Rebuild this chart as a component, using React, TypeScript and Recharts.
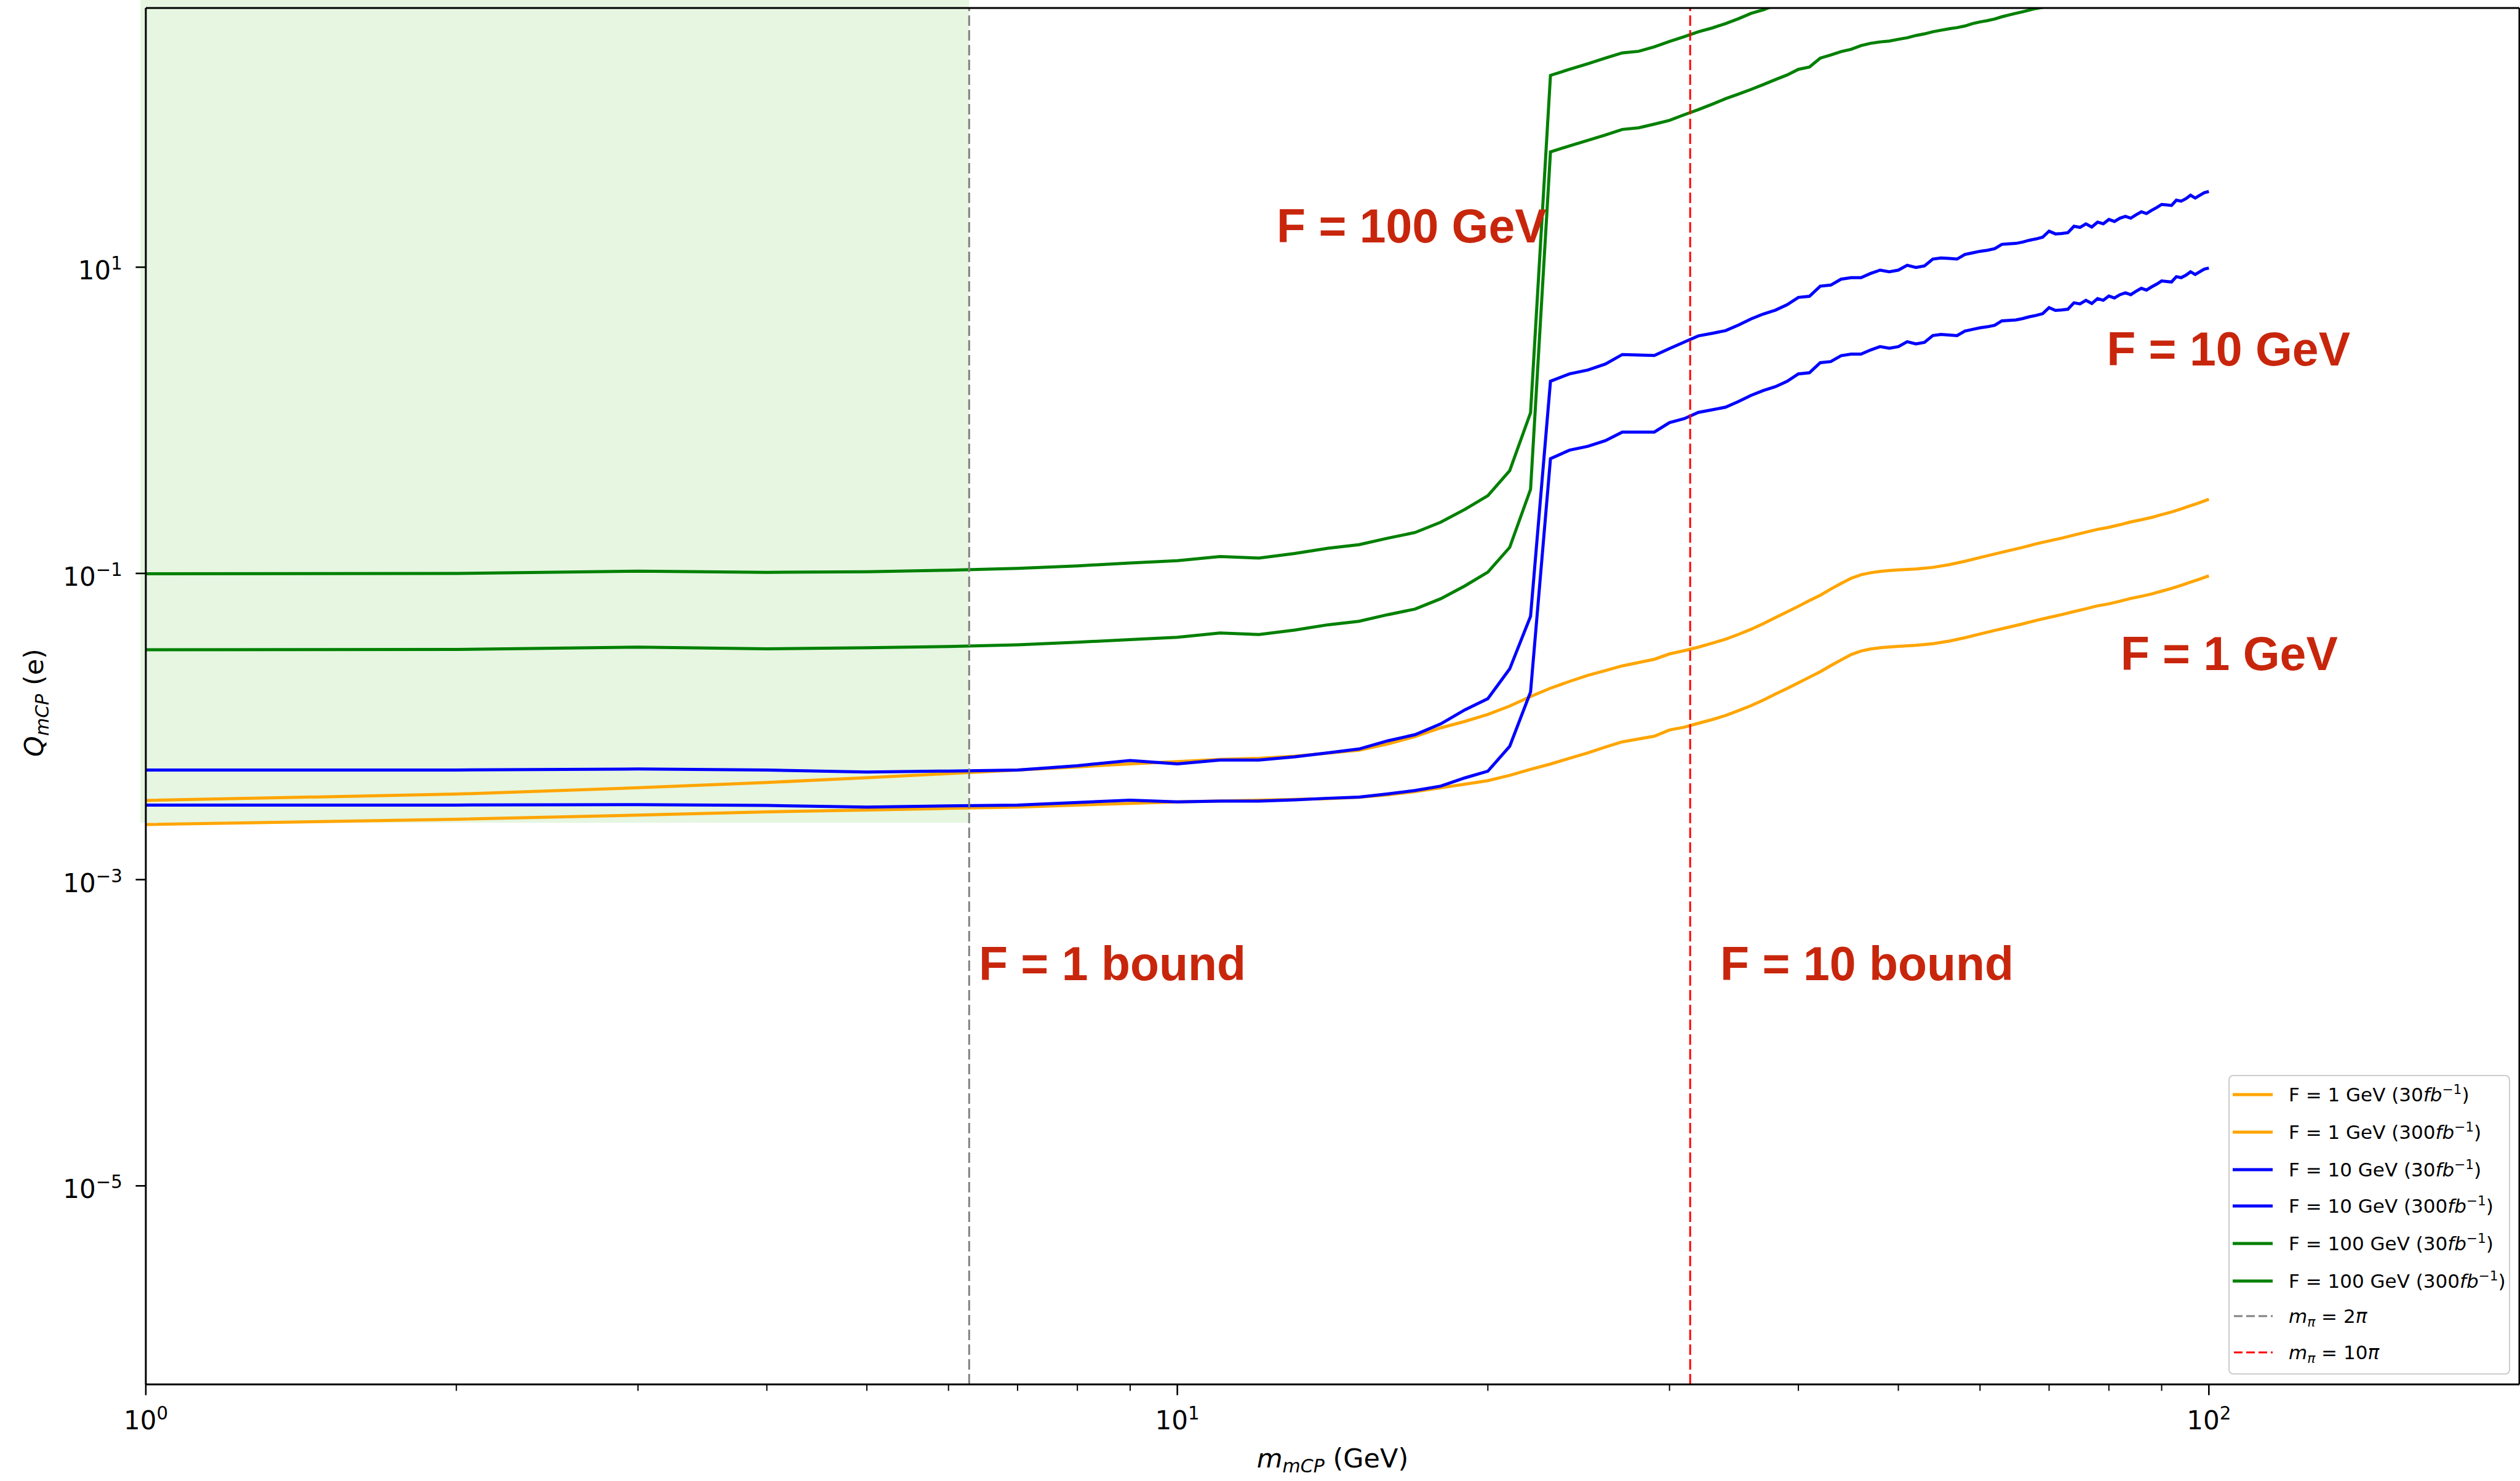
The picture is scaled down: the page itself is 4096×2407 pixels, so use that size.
import React from 'react';
import {
  ComposedChart,
  Line,
  XAxis,
  YAxis,
  ReferenceLine,
  ReferenceArea,
  Scatter,
  Legend,
  Customized,
} from 'recharts';

// ---------------- data ----------------
const X_MIN = 1;
const X_MAX = 200;
const Y_MIN = 5.05e-7;
const Y_MAX = 493;

const xMajorTicks = [1, 10, 100];
const xMinorTicks = [2, 3, 4, 5, 6, 7, 8, 9, 20, 30, 40, 50, 60, 70, 80, 90];
const xTickLabels: Record<number, [string, string]> = { 1: ['10', '0'], 10: ['10', '1'], 100: ['10', '2'] };
const yTicks = [1e1, 1e-1, 1e-3, 1e-5];
const yTickLabels: Record<string, [string, string]> = {
  '10': ['10', '1'],
  '0.1': ['10', '\u22121'],
  '0.001': ['10', '\u22123'],
  '0.00001': ['10', '\u22125'],
};

// F = 1 GeV, 30 fb^-1
const orange30: [number, number][] = [
  [1, 0.00329], [2, 0.00362], [3, 0.00398], [4, 0.00431], [5, 0.00463], [6, 0.00493], [7, 0.0052],
  [8, 0.00545], [9, 0.0057], [10, 0.0059], [11, 0.0061], [12, 0.0062], [13, 0.0064], [14, 0.0067],
  [15, 0.007], [16, 0.0077], [17, 0.0086], [18, 0.0098], [19, 0.0108], [20, 0.012], [21, 0.0136],
  [22, 0.0157], [23, 0.0178], [24, 0.0197], [25, 0.0216], [26, 0.0232], [27, 0.0249], [28, 0.0262],
  [29, 0.0275], [30, 0.0298], [31, 0.0313], [32, 0.033], [33, 0.035], [34, 0.0372], [35, 0.04],
  [36, 0.0432], [37, 0.047], [38, 0.0515], [39, 0.056], [40, 0.061], [41, 0.0665], [42, 0.072],
  [43, 0.079], [44, 0.086], [45, 0.093], [46, 0.098], [47, 0.101], [48, 0.103], [49, 0.1045],
  [50, 0.1055], [52, 0.107], [54, 0.1095], [56, 0.114], [58, 0.12], [60, 0.127], [62, 0.134],
  [64, 0.141], [66, 0.148], [68, 0.156], [70, 0.163], [72, 0.17], [74, 0.178], [76, 0.186],
  [78, 0.194], [80, 0.2], [82, 0.208], [84, 0.217], [86, 0.224], [88, 0.232], [90, 0.242],
  [92, 0.252], [94, 0.264], [96, 0.277], [98, 0.29], [100, 0.305],
];

// F = 1 GeV, 300 fb^-1
const orange300: [number, number][] = [
  [1, 0.00229], [2, 0.00248], [3, 0.00264], [4, 0.00277], [5, 0.00285], [6, 0.00292], [7, 0.00298],
  [8, 0.00307], [9, 0.00315], [10, 0.00322], [12, 0.0033], [14, 0.00338], [15, 0.00345], [16, 0.00358],
  [17, 0.00376], [18, 0.00398], [19, 0.0042], [20, 0.00443], [21, 0.0048], [22, 0.00525], [23, 0.00569],
  [24, 0.0062], [25, 0.00673], [26, 0.00735], [27, 0.00794], [28, 0.0083], [29, 0.00864], [30, 0.0095],
  [31, 0.0099], [32, 0.0105], [33, 0.0111], [34, 0.0118], [35, 0.0127], [36, 0.0137], [37, 0.0149],
  [38, 0.0163], [39, 0.0177], [40, 0.0193], [41, 0.021], [42, 0.0228], [43, 0.025], [44, 0.0272],
  [45, 0.0295], [46, 0.0311], [47, 0.0321], [48, 0.0327], [49, 0.0331], [50, 0.0334], [52, 0.0339],
  [54, 0.0347], [56, 0.0361], [58, 0.038], [60, 0.0402], [62, 0.0424], [64, 0.0446], [66, 0.0468],
  [68, 0.0493], [70, 0.0516], [72, 0.0538], [74, 0.0563], [76, 0.0588], [78, 0.0614], [80, 0.0633],
  [82, 0.0658], [84, 0.0686], [86, 0.0709], [88, 0.0734], [90, 0.0766], [92, 0.0797], [94, 0.0835],
  [96, 0.0877], [98, 0.0918], [100, 0.0965],
];

// F = 10 GeV, 30 fb^-1
const blue30: [number, number][] = [
  [1, 0.0052], [2, 0.0052], [3, 0.00528], [4, 0.0052], [5, 0.00504], [6, 0.00512], [7, 0.0052],
  [8, 0.00555], [9, 0.006], [10, 0.0057], [11, 0.00604], [12, 0.00604], [13, 0.00634], [14, 0.00673],
  [15, 0.00713], [16, 0.00807], [17, 0.00885], [18, 0.0104], [19, 0.01285], [20, 0.0152], [21, 0.0238],
  [22, 0.0525], [23, 1.8], [24, 2.01], [25, 2.13], [26, 2.33], [27, 2.69], [28, 2.67], [29, 2.65],
  [30, 2.94], [31, 3.24], [32, 3.56], [33, 3.7], [34, 3.85], [35, 4.19], [36, 4.6], [37, 4.95],
  [38, 5.24], [39, 5.68], [40, 6.35], [41, 6.46], [42, 7.52], [43, 7.64], [44, 8.35], [45, 8.55],
  [46, 8.55], [47, 9.1], [48, 9.57], [49, 9.34], [50, 9.57], [51, 10.3], [52, 9.96], [53, 10.2],
  [54, 11.3], [55, 11.5], [56, 11.4], [57, 11.3], [58, 12.1], [59, 12.4], [60, 12.7], [61, 12.9],
  [62, 13.2], [63, 14.1], [64, 14.2], [65, 14.3], [66, 14.6], [67, 15.0], [68, 15.3], [69, 15.7],
  [70, 17.2], [71, 16.5], [72, 16.6], [73, 16.8], [74, 18.5], [75, 18.2], [76, 19.2], [77, 18.3],
  [78, 19.7], [79, 19.2], [80, 20.5], [81, 19.9], [82, 20.9], [83, 21.5], [84, 20.9], [85, 22.0],
  [86, 23.0], [87, 22.4], [88, 23.5], [89, 24.5], [90, 25.7], [91, 25.5], [92, 25.3], [93, 27.4],
  [94, 27.0], [95, 28.0], [96, 29.5], [97, 28.3], [98, 29.5], [99, 30.7], [100, 31.2],
];

// F = 10 GeV, 300 fb^-1
const blue300: [number, number][] = [
  [1, 0.00307], [2, 0.00307], [3, 0.00309], [4, 0.00305], [5, 0.00298], [6, 0.00303], [7, 0.00307],
  [8, 0.00319], [9, 0.0033], [10, 0.00322], [11, 0.00326], [12, 0.00326], [13, 0.00332], [14, 0.0034],
  [15, 0.00346], [16, 0.00363], [17, 0.00382], [18, 0.00408], [19, 0.00462], [20, 0.00511], [21, 0.00743],
  [22, 0.0168], [23, 0.562], [24, 0.638], [25, 0.676], [26, 0.736], [27, 0.838], [28, 0.838], [29, 0.838],
  [30, 0.966], [31, 1.025], [32, 1.127], [33, 1.171], [34, 1.218], [35, 1.326], [36, 1.456], [37, 1.566],
  [38, 1.658], [39, 1.797], [40, 2.01], [41, 2.044], [42, 2.38], [43, 2.418], [44, 2.642], [45, 2.706],
  [46, 2.706], [47, 2.88], [48, 3.028], [49, 2.956], [50, 3.028], [51, 3.26], [52, 3.152], [53, 3.228],
  [54, 3.576], [55, 3.639], [56, 3.608], [57, 3.576], [58, 3.829], [59, 3.924], [60, 4.019], [61, 4.082],
  [62, 4.177], [63, 4.462], [64, 4.494], [65, 4.525], [66, 4.62], [67, 4.747], [68, 4.842], [69, 4.968],
  [70, 5.443], [71, 5.222], [72, 5.253], [73, 5.316], [74, 5.854], [75, 5.759], [76, 6.076], [77, 5.791],
  [78, 6.234], [79, 6.076], [80, 6.487], [81, 6.297], [82, 6.614], [83, 6.804], [84, 6.614], [85, 6.962],
  [86, 7.278], [87, 7.089], [88, 7.437], [89, 7.753], [90, 8.133], [91, 8.07], [92, 8.006], [93, 8.671],
  [94, 8.544], [95, 8.861], [96, 9.335], [97, 8.956], [98, 9.335], [99, 9.715], [100, 9.873],
];

// F = 100 GeV, 30 fb^-1
const green30: [number, number][] = [
  [1, 0.0994], [2, 0.1], [3, 0.1035], [4, 0.1016], [5, 0.1025], [6, 0.105], [7, 0.108], [8, 0.112],
  [9, 0.117], [10, 0.121], [11, 0.129], [12, 0.126], [13, 0.135], [14, 0.146], [15, 0.154], [16, 0.17],
  [17, 0.185], [18, 0.216], [19, 0.262], [20, 0.322], [21, 0.469], [22, 1.12], [23, 179], [24, 196],
  [25, 213], [26, 232], [27, 251], [28, 257], [29, 275], [30, 298], [31, 320], [32, 345], [33, 365],
  [34, 390], [35, 420], [36, 455], [37, 480], [38, 515], [39, 550],
];

// F = 100 GeV, 300 fb^-1
const green300: [number, number][] = [
  [1, 0.0317], [2, 0.0319], [3, 0.033], [4, 0.0322], [5, 0.0327], [6, 0.0333], [7, 0.0342], [8, 0.0355],
  [9, 0.037], [10, 0.0383], [11, 0.0408], [12, 0.0399], [13, 0.0427], [14, 0.0462], [15, 0.0487],
  [16, 0.0538], [17, 0.0585], [18, 0.0683], [19, 0.0829], [20, 0.102], [21, 0.148], [22, 0.354],
  [23, 56.6], [24, 62], [25, 67.4], [26, 73], [27, 79.4], [28, 81.3], [29, 86], [30, 91], [31, 99],
  [32, 107], [33, 116], [34, 126], [35, 135], [36, 145], [37, 156], [38, 168], [39, 180], [40, 196],
  [41, 203], [42, 232], [43, 243], [44, 256], [45, 265], [46, 280], [47, 290], [48, 296], [49, 300],
  [50, 308], [51, 315], [52, 326], [53, 334], [54, 345], [55, 353], [56, 361], [57, 367], [58, 376],
  [59, 390], [60, 400], [61, 408], [62, 418], [63, 432], [64, 444], [65, 455], [66, 466], [67, 478],
  [68, 490], [69, 498], [70, 512],
];

// vertical bounds m_pi = 2 pi and m_pi = 10 pi
const boundLines = [
  { x: 6.2832, color: '#808080', label: '2' },
  { x: 31.416, color: '#ff0000', label: '10' },
];

// shaded excluded region (F = 1 bound)
const shadeRegion = { x1: 0.988, x2: 6.2832, y1: 0.00235, y2: 560 };

// text annotations placed in data coordinates (left / baseline)
const annotations = [
  { x: 12.48, y: 14.45, text: 'F = 100 GeV' },
  { x: 79.6, y: 2.29, text: 'F = 10 GeV' },
  { x: 82.1, y: 0.0233, text: 'F = 1 GeV' },
  { x: 6.42, y: 2.21e-4, text: 'F = 1 bound' },
  { x: 33.6, y: 2.21e-4, text: 'F = 10 bound' },
];

const series = [
  { id: 'o30', F: '1', lumi: '30', color: '#ffa500', data: orange30 },
  { id: 'o300', F: '1', lumi: '300', color: '#ffa500', data: orange300 },
  { id: 'b30', F: '10', lumi: '30', color: '#0000ff', data: blue30 },
  { id: 'b300', F: '10', lumi: '300', color: '#0000ff', data: blue300 },
  { id: 'g30', F: '100', lumi: '30', color: '#008000', data: green30 },
  { id: 'g300', F: '100', lumi: '300', color: '#008000', data: green300 },
];

const toPoints = (arr: [number, number][]) => arr.map(([x, y]) => ({ x, y }));

// ---------------- styling ----------------
const FONT = 'DejaVu Sans, Verdana, sans-serif';
const TICK_FS = 42;
const LINE_W = 5;
const DASH = '17 7';
const RED_TEXT = '#c8260c';

const XTick = (props: any) => {
  const { x, y, payload } = props;
  const v = payload.value;
  const lab = xTickLabels[v];
  return (
    <g>
      <line x1={x} x2={x} y1={y} y2={y + (lab ? 17.5 : 10.5)} stroke="#000" strokeWidth={lab ? 2.6 : 2} />
      {lab && (
        <text x={x} y={y + 73} textAnchor="middle" fontFamily={FONT} fontSize={TICK_FS} fill="#000">
          <tspan>{lab[0]}</tspan>
          <tspan dy={-16} fontSize={TICK_FS * 0.7}>{lab[1]}</tspan>
        </text>
      )}
    </g>
  );
};

const YTick = (props: any) => {
  const { x, y, payload } = props;
  const lab = yTickLabels[String(payload.value)];
  return (
    <g>
      <line x1={x - 16.5} x2={x} y1={y} y2={y} stroke="#000" strokeWidth={2.6} />
      {lab && (
        <text x={x - 38} y={y + 20} textAnchor="end" fontFamily={FONT} fontSize={TICK_FS} fill="#000">
          <tspan>{lab[0]}</tspan>
          <tspan dy={-16} fontSize={TICK_FS * 0.7}>{lab[1]}</tspan>
        </text>
      )}
    </g>
  );
};

const AnnotationShape = (props: any) => {
  const { cx, cy, payload } = props;
  return (
    <text
      x={cx}
      y={cy}
      fontFamily="Liberation Sans, Arial, sans-serif"
      fontWeight="bold"
      fontSize={77}
      fill={RED_TEXT}
    >
      {payload.text}
    </text>
  );
};

const AxisTitles = () => (
  <g fontFamily={FONT} fill="#000">
    <text x={2166} y={2385} textAnchor="middle" fontSize={43}>
      <tspan fontStyle="italic">m</tspan>
      <tspan fontStyle="italic" fontSize={30} dy={8}>mCP</tspan>
      <tspan dy={-8}> (GeV)</tspan>
    </text>
    <text x={70} y={1142} textAnchor="middle" fontSize={43} transform="rotate(-90, 70, 1142)">
      <tspan fontStyle="italic">Q</tspan>
      <tspan fontStyle="italic" fontSize={30} dy={9}>mCP</tspan>
      <tspan dy={-9}> (e)</tspan>
    </text>
  </g>
);

const legendRowsY = [32, 93, 154, 213, 274, 335, 392, 451];
const LEG_FS = 31;

const LegendBox = () => (
  <svg width={458} height={487} style={{ display: 'block', overflow: 'visible' }}>
    <rect x={1} y={1} width={456} height={485} rx={7} fill="#ffffff" fillOpacity={0.8} stroke="#cccccc" strokeWidth={2} />
    {series.map((s, i) => {
      const cy = legendRowsY[i];
      return (
        <g key={s.id}>
          <line x1={7} x2={72} y1={cy} y2={cy} stroke={s.color} strokeWidth={LINE_W} />
          <text x={98} y={cy + 11} fontFamily={FONT} fontSize={LEG_FS} fill="#000">
            <tspan>{`F = ${s.F} GeV (${s.lumi}`}</tspan>
            <tspan fontStyle="italic">fb</tspan>
            <tspan dy={-12} fontSize={LEG_FS * 0.7}>{'\u22121'}</tspan>
            <tspan dy={12}>)</tspan>
          </text>
        </g>
      );
    })}
    {boundLines.map((b, j) => {
      const cy = legendRowsY[series.length + j];
      return (
        <g key={b.label}>
          <line x1={9} x2={72} y1={cy} y2={cy} stroke={b.color} strokeWidth={3} strokeDasharray="14 6" />
          <text x={98} y={cy + 11} fontFamily={FONT} fontSize={LEG_FS} fill="#000">
            <tspan fontStyle="italic">m</tspan>
            <tspan fontStyle="italic" fontSize={LEG_FS * 0.7} dy={6}>{'\u03c0'}</tspan>
            <tspan dy={-6}>{` = ${b.label}`}</tspan>
            <tspan fontStyle="italic">{'\u03c0'}</tspan>
          </text>
        </g>
      );
    })}
  </svg>
);

export default function App() {
  return (
    <div style={{ position: 'absolute', left: 0, top: 0, width: 4096, height: 2407, background: '#fff' }}>
      <ComposedChart width={4096} height={2407} margin={{ top: 13, right: 1, bottom: 0, left: 0 }}>
        <XAxis
          dataKey="x"
          type="number"
          scale="log"
          domain={[X_MIN, X_MAX]}
          allowDataOverflow
          ticks={[...xMajorTicks, ...xMinorTicks]}
          interval={0}
          tick={<XTick />}
          tickLine={false}
          tickSize={0}
          tickMargin={0}
          height={157}
          axisLine={{ stroke: '#000', strokeWidth: 3 }}
        />
        <YAxis
          dataKey="y"
          type="number"
          scale="log"
          domain={[Y_MIN, Y_MAX]}
          allowDataOverflow
          ticks={yTicks}
          interval={0}
          tick={<YTick />}
          tickLine={false}
          tickSize={0}
          tickMargin={0}
          width={237}
          axisLine={{ stroke: '#000', strokeWidth: 3 }}
        />
        <ReferenceArea
          x1={shadeRegion.x1}
          x2={shadeRegion.x2}
          y1={shadeRegion.y1}
          y2={shadeRegion.y2}
          ifOverflow="visible"
          fill="#e6f6e1"
          fillOpacity={1}
          stroke="none"
        />
        {series.map((s) => (
          <Line
            key={s.id}
            data={toPoints(s.data)}
            dataKey="y"
            type="linear"
            stroke={s.color}
            strokeWidth={LINE_W}
            dot={false}
            activeDot={false}
            isAnimationActive={false}
            name={s.id}
          />
        ))}
        {boundLines.map((b) => (
          <ReferenceLine key={b.label} x={b.x} stroke={b.color} strokeWidth={3} strokeDasharray={DASH} />
        ))}
        <ReferenceLine y={Y_MAX} stroke="#000" strokeWidth={3} />
        <ReferenceLine x={X_MAX} stroke="#000" strokeWidth={3} />
        <Scatter data={annotations} dataKey="y" shape={<AnnotationShape />} isAnimationActive={false} />
        <Customized component={<AxisTitles />} />
        <Legend
          layout="vertical"
          align="center"
          verticalAlign="middle"
          content={() => <LegendBox />}
          wrapperStyle={{ left: 3622, top: 1747, width: 458, height: 487 }}
        />
      </ComposedChart>
    </div>
  );
}
